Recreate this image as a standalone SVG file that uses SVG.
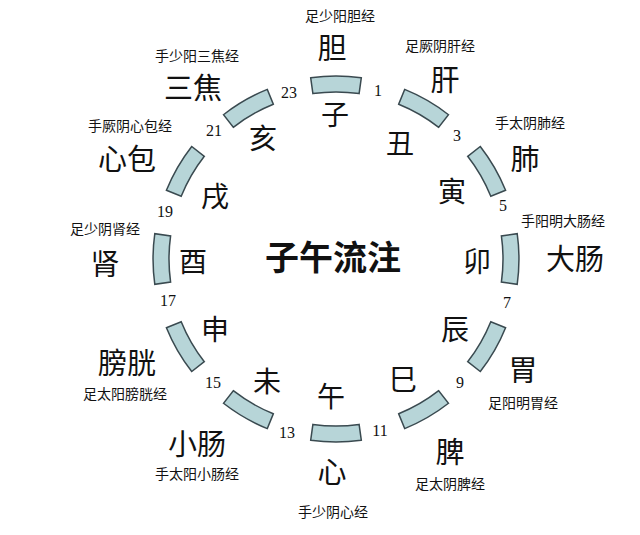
<svg xmlns="http://www.w3.org/2000/svg" xmlns:xlink="http://www.w3.org/1999/xlink" width="640" height="535" viewBox="0 0 640 535">
<style>
text{font-family:"Noto Sans CJK SC","Liberation Sans",sans-serif;text-anchor:middle;dominant-baseline:central;fill:#111}
.big{font-size:29px}
.br{font-size:28px}
.sm{font-size:14px}
.n{font-size:16px;font-family:"Liberation Serif",serif}
.seg{fill:#b7d5d8;stroke:#3a4a50;stroke-width:1.5}
</style>
<defs>
<path id="s" class="seg" d="M-25.3,-181.2 A183,183 0 0 1 25.3,-181.2 L23.1,-165.4 A167,167 0 0 0 -23.1,-165.4 Z"/>
</defs>
<rect width="640" height="535" fill="#fff"/>
<g id="connectors" transform="translate(336,259)">
<use xlink:href="#s"/>
<use xlink:href="#s" transform="rotate(30)"/>
<use xlink:href="#s" transform="rotate(60)"/>
<use xlink:href="#s" transform="rotate(90)"/>
<use xlink:href="#s" transform="rotate(120)"/>
<use xlink:href="#s" transform="rotate(150)"/>
<use xlink:href="#s" transform="rotate(180)"/>
<use xlink:href="#s" transform="rotate(210)"/>
<use xlink:href="#s" transform="rotate(240)"/>
<use xlink:href="#s" transform="rotate(270)"/>
<use xlink:href="#s" transform="rotate(300)"/>
<use xlink:href="#s" transform="rotate(330)"/>
</g>
<g id="center"><text x="333" y="255" style="font-size:34px;font-weight:bold">子午流注</text></g>
<g id="branches">
<text class="br" x="335" y="113">子</text><text class="br" x="400" y="142">丑</text><text class="br" x="452" y="190">寅</text><text class="br" x="477" y="260">卯</text><text class="br" x="455" y="328">辰</text><text class="br" x="403" y="378">巳</text><text class="br" x="331" y="395">午</text><text class="br" x="267" y="380">未</text><text class="br" x="215" y="328">申</text><text class="br" x="193" y="260">酉</text><text class="br" x="215" y="195">戌</text><text class="br" x="263" y="137">亥</text>
</g>
<g id="organs">
<text class="big" x="332" y="46">胆</text><text class="big" x="445" y="78">肝</text><text class="big" x="525" y="157">肺</text><text class="big" x="575" y="257">大肠</text><text class="big" x="523" y="368">胃</text><text class="big" x="450" y="450">脾</text><text class="big" x="332" y="470">心</text><text class="big" x="197" y="442">小肠</text><text class="big" x="127" y="361">膀胱</text><text class="big" x="105" y="262">肾</text><text class="big" x="127" y="157">心包</text><text class="big" x="193" y="86">三焦</text>
</g>
<g id="meridians">
<text class="sm" x="340" y="15">足少阳胆经</text><text class="sm" x="440" y="45">足厥阴肝经</text><text class="sm" x="530" y="122">手太阴肺经</text><text class="sm" x="563" y="220">手阳明大肠经</text><text class="sm" x="523" y="402">足阳明胃经</text><text class="sm" x="450" y="483">足太阴脾经</text><text class="sm" x="333" y="511">手少阴心经</text><text class="sm" x="197" y="473">手太阳小肠经</text><text class="sm" x="125" y="393">足太阳膀胱经</text><text class="sm" x="105" y="228">足少阴肾经</text><text class="sm" x="130" y="125">手厥阴心包经</text><text class="sm" x="197" y="55">手少阳三焦经</text>
</g>
<g id="hours">
<text class="n" x="289" y="92">23</text><text class="n" x="378" y="90">1</text><text class="n" x="457" y="135">3</text><text class="n" x="503" y="205">5</text><text class="n" x="507" y="302">7</text><text class="n" x="460" y="382">9</text><text class="n" x="380" y="430">11</text><text class="n" x="287" y="432">13</text><text class="n" x="213" y="382">15</text><text class="n" x="168" y="300">17</text><text class="n" x="165" y="211">19</text><text class="n" x="214" y="130">21</text>
</g>
</svg>
